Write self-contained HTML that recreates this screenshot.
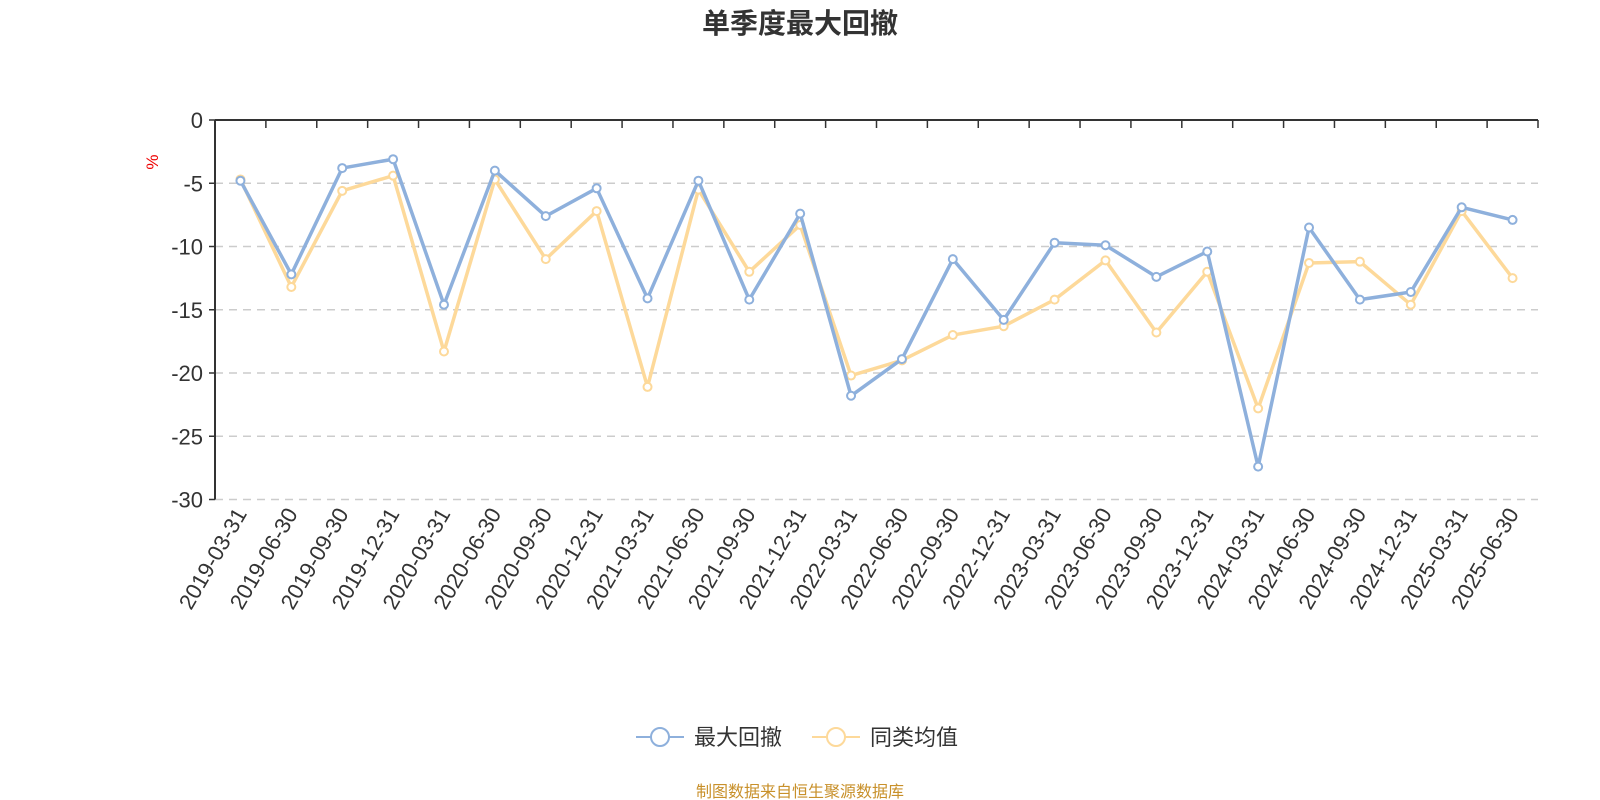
<!DOCTYPE html>
<html><head><meta charset="utf-8"><style>
body{margin:0;background:#fff;}
svg{display:block;font-family:"Liberation Sans","Noto Sans CJK SC",sans-serif;}
</style></head><body>
<svg id="c" width="1600" height="800">
<text x="800" y="33" text-anchor="middle" font-size="28" font-weight="bold" fill="#333">单季度最大回撤</text>
<text x="158" y="162" font-size="17" fill="#e00" transform="rotate(-90 158 162)" text-anchor="middle">%</text>
<g id="grid"></g><g id="axes"></g><g id="series"></g>
<g>
<g>
<line x1="636" y1="737" x2="684" y2="737" stroke="#8eb0dc" stroke-width="2"/>
<circle cx="660" cy="737" r="9" fill="#fff" stroke="#8eb0dc" stroke-width="2"/>
<text x="694" y="745" font-size="22" fill="#333">最大回撤</text></g>
<g>
<line x1="812" y1="737" x2="860" y2="737" stroke="#fdd99a" stroke-width="2"/>
<circle cx="836" cy="737" r="9" fill="#fff" stroke="#fdd99a" stroke-width="2"/>
<text x="870" y="745" font-size="22" fill="#333">同类均值</text></g>
</g>
<text x="800" y="797" text-anchor="middle" font-size="16" fill="#c8902a">制图数据来自恒生聚源数据库</text>
</svg>
<script>
const categories=["2019-03-31","2019-06-30","2019-09-30","2019-12-31","2020-03-31","2020-06-30","2020-09-30","2020-12-31","2021-03-31","2021-06-30","2021-09-30","2021-12-31","2022-03-31","2022-06-30","2022-09-30","2022-12-31","2023-03-31","2023-06-30","2023-09-30","2023-12-31","2024-03-31","2024-06-30","2024-09-30","2024-12-31","2025-03-31","2025-06-30"];
const maxDrawdown=[-4.8,-12.2,-3.8,-3.1,-14.6,-4.0,-7.6,-5.4,-14.1,-4.8,-14.2,-7.4,-21.8,-18.9,-11.0,-15.8,-9.7,-9.9,-12.4,-10.4,-27.4,-8.5,-14.2,-13.6,-6.9,-7.9];
const peerAverage=[-4.7,-13.2,-5.6,-4.4,-18.3,-4.7,-11.0,-7.2,-21.1,-5.5,-12.0,-8.3,-20.2,-19.0,-17.0,-16.3,-14.2,-11.1,-16.8,-12.0,-22.8,-11.3,-11.2,-14.6,-7.2,-12.5];
const yTicks=[0,-5,-10,-15,-20,-25,-30];
const NS="http://www.w3.org/2000/svg";
const L=215,R=1538,T=120,B=499.5;
const bw=(R-L)/categories.length;
const xs=i=>L+bw*(i+0.5);
const ys=v=>T+(0-v)/30*(B-T);
function mk(tag,attrs,parent){const e=document.createElementNS(NS,tag);for(const k in attrs)e.setAttribute(k,attrs[k]);parent.appendChild(e);return e;}
const grid=document.getElementById('grid'),axes=document.getElementById('axes'),ser=document.getElementById('series');
yTicks.forEach(t=>{
  const y=ys(t);
  if(t!==0){const g=mk('line',{x1:L,x2:R,y1:y,y2:y,stroke:'#ccc','stroke-width':1.5,'stroke-dasharray':'8,6'},grid);
  
  }
  mk('line',{x1:L-6,x2:L,y1:y,y2:y,stroke:'#333','stroke-width':1.5},axes);
  const tx=mk('text',{x:L-12,y:y+8,'text-anchor':'end','font-size':22,fill:'#333'},axes);
  tx.textContent=t;
  
  
});
const ya=mk('line',{x1:L,x2:L,y1:T,y2:B,stroke:'#333','stroke-width':2},axes);


const xa=mk('line',{x1:L,x2:R,y1:T,y2:T,stroke:'#333','stroke-width':2},axes);


for(let i=0;i<=categories.length;i++){mk('line',{x1:L+bw*i,x2:L+bw*i,y1:T,y2:T+8,stroke:'#333','stroke-width':1.5},axes);}
categories.forEach((c,i)=>{
  const x=xs(i)+7,y=B+14;
  const tx=mk('text',{x:x,y:y,'text-anchor':'end','font-size':22,fill:'#333',transform:`rotate(-60 ${x} ${y})`},axes);
  tx.textContent=c;
  
  
});
function draw(data,color,name){
  const p=mk('polyline',{points:data.map((v,i)=>xs(i)+','+ys(v)).join(' '),fill:'none',stroke:color,'stroke-width':3.5,'stroke-linejoin':'round'},ser);
  
  
  data.forEach((v,i)=>{
    const c=mk('circle',{cx:xs(i),cy:ys(v),r:4,fill:'#fff',stroke:color,'stroke-width':2},ser);
    
    
  });
}
draw(peerAverage,'#fdd99a','peer-average');
draw(maxDrawdown,'#8eb0dc','max-drawdown');
</script>
</body></html>
